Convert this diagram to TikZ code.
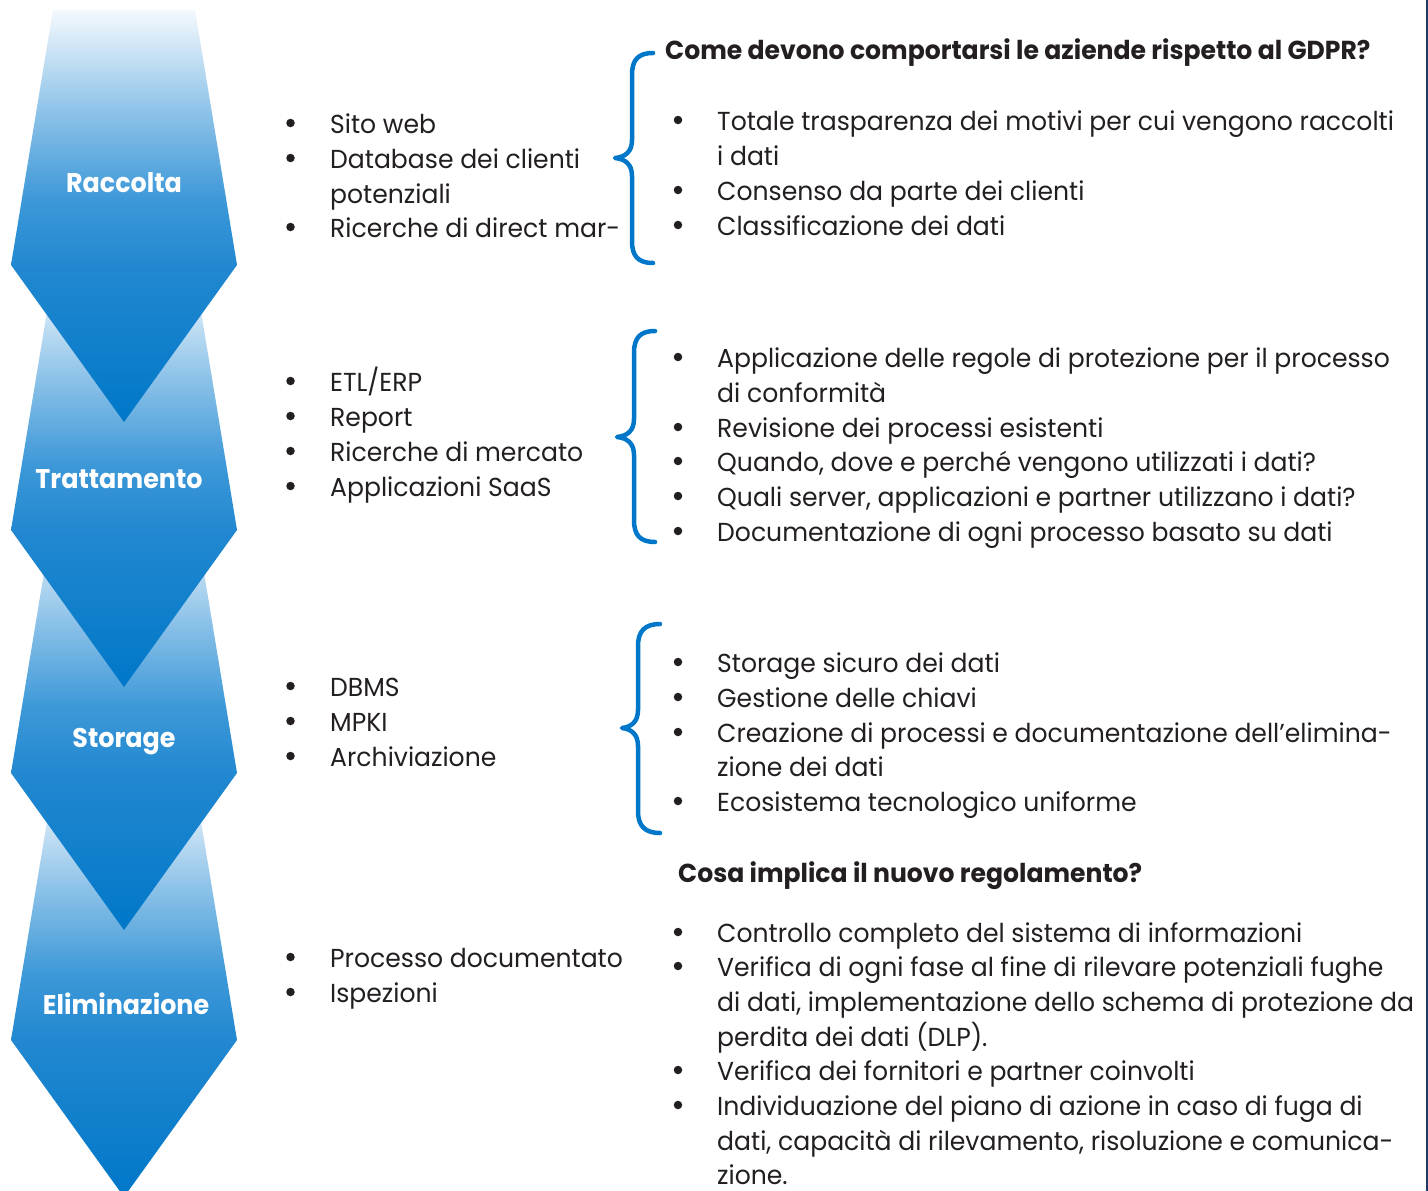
\documentclass[tikz,border=0pt]{standalone}
\usepackage{fontspec}
\setmainfont{Poppins}[FakeStretch=0.965]
\newfontfamily\labfont{Poppins}[FakeStretch=0.94]
\definecolor{txtcol}{HTML}{231F20}
\definecolor{bracecol}{HTML}{0077C8}
\definecolor{navy}{HTML}{1F3A68}
\definecolor{sA}{HTML}{F4F9FD}
\definecolor{sB}{HTML}{90C4E9}
\definecolor{sC}{HTML}{3D98D8}
\definecolor{sD}{HTML}{2288D0}
\definecolor{sE}{HTML}{0077C8}
\pgfdeclareverticalshading{arrowshade}{100bp}{color(0bp)=(sE); color(25bp)=(sE); color(44bp)=(sD); color(52bp)=(sC); color(63bp)=(sB); color(75bp)=(sA); color(100bp)=(sA)}
\tikzset{
  line/.style={anchor=base west, inner sep=0pt, text=txtcol, font=\fontsize{26}{30}\selectfont},
  head/.style={anchor=base west, inner sep=0pt, text=txtcol, font=\fontsize{26}{30}\selectfont\bfseries},
  bul/.style={circle, fill=txtcol, inner sep=0pt, minimum size=8.5pt},
  lab/.style={text=white, inner sep=0pt, font=\labfont\fontsize{27}{30}\selectfont\bfseries},
  chev/.style={shading=arrowshade, draw=none},
  gbrace/.style={draw=bracecol, line width=4.5pt, line cap=round, line join=round},
}
\begin{document}
\begin{tikzpicture}[x=1pt,y=-1pt]
\useasboundingbox (0,0) rectangle (1428,1191);
\fill[white] (0,0) rectangle (1428,1191);
% chevrons (bottom first)
\foreach \t in {785,518,275,10}{
  \path[chev] (53,\t) -- (195,\t) -- (237,\t+255) -- (124,\t+412) -- (11,\t+255) -- cycle;
}
\node[lab] (a1) at (124,183) {Raccolta};
\node[lab] (a2) at (119,479) {Trattamento};
\node[lab] (a3) at (124,742) {Storage};
\node[lab] (a4) at (126,1004) {Eliminazione};
% right border
\draw[navy, line width=2pt] (1427,0) -- (1427,1191);
% left column
\node[line] (l1) at (330,133) {Sito web};
\node[line] (l2) at (330,168) {Database dei clienti};
\node[line] (l3) at (330,203) {potenziali};
\node[line] (l4) at (330,237) {Ricerche di direct mar-};
\node[line] (l5) at (330,391) {ETL/ERP};
\node[line] (l6) at (330,426) {Report};
\node[line] (l7) at (330,461) {Ricerche di mercato};
\node[line] (l8) at (330,496) {Applicazioni SaaS};
\node[line] (l9) at (330,696) {DBMS};
\node[line] (l10) at (330,731) {MPKI};
\node[line] (l11) at (330,766) {Archiviazione};
\node[line] (l12) at (330,967) {Processo documentato};
\node[line] (l13) at (330,1002) {Ispezioni};
\foreach \y [count=\i] in {133,168,237,391,426,461,496,696,731,766,967,1002}
  \node[bul] (lb\i) at (290.5,\y-10) {};
% right column
\node[head] (h1) at (665,59) {Come devono comportarsi le aziende rispetto al GDPR?};
\node[line] (r1) at (717,130) {Totale trasparenza dei motivi per cui vengono raccolti};
\node[line] (r2) at (717,165) {i dati};
\node[line] (r3) at (717,200) {Consenso da parte dei clienti};
\node[line] (r4) at (717,235) {Classificazione dei dati};
\node[line] (r5) at (717,367) {Applicazione delle regole di protezione per il processo};
\node[line] (r6) at (717,402) {di conformità};
\node[line] (r7) at (717,437) {Revisione dei processi esistenti};
\node[line] (r8) at (717,471) {Quando, dove e perché vengono utilizzati i dati?};
\node[line] (r9) at (717,506) {Quali server, applicazioni e partner utilizzano i dati?};
\node[line] (r10) at (717,541) {Documentazione di ogni processo basato su dati};
\node[line] (r11) at (717,672) {Storage sicuro dei dati};
\node[line] (r12) at (717,707) {Gestione delle chiavi};
\node[line] (r13) at (717,742) {Creazione di processi e documentazione dell’elimina-};
\node[line] (r14) at (717,776) {zione dei dati};
\node[line] (r15) at (717,811) {Ecosistema tecnologico uniforme};
\node[head] (h2) at (678,882) {Cosa implica il nuovo regolamento?};
\node[line] (r16) at (717,942) {Controllo completo del sistema di informazioni};
\node[line] (r17) at (717,976) {Verifica di ogni fase al fine di rilevare potenziali fughe};
\node[line] (r18) at (717,1011) {di dati, implementazione dello schema di protezione da};
\node[line] (r19) at (717,1046) {perdita dei dati (DLP).};
\node[line] (r20) at (717,1080) {Verifica dei fornitori e partner coinvolti};
\node[line] (r21) at (717,1115) {Individuazione del piano di azione in caso di fuga di};
\node[line] (r22) at (717,1150) {dati, capacità di rilevamento, risoluzione e comunica-};
\node[line] (r23) at (717,1184) {zione.};
\foreach \y [count=\i] in {130,200,235,367,437,471,506,541,672,707,742,811,942,976,1080,1115}
  \node[bul] (rb\i) at (678,\y-10) {};
% braces
\draw[gbrace] (653,53) .. controls (638,53) and (632,60) .. (632,75) -- (632,140) .. controls (632,152) and (625,157) .. (615,158) .. controls (625,159) and (632,164) .. (632,176) -- (632,241) .. controls (632,256) and (638,263) .. (653,263);
\draw[gbrace] (655,331) .. controls (640,331) and (634,338) .. (634,353) -- (634,419) .. controls (634,431) and (627,436) .. (617,437) .. controls (627,438) and (634,443) .. (634,455) -- (634,520) .. controls (634,535) and (640,542) .. (655,542);
\draw[gbrace] (660,624) .. controls (645,624) and (638,631) .. (638,646) -- (638,710) .. controls (638,722) and (631,727) .. (622,728) .. controls (631,729) and (638,734) .. (638,746) -- (638,811) .. controls (638,826) and (645,833) .. (660,833);
\end{tikzpicture}
\end{document}
